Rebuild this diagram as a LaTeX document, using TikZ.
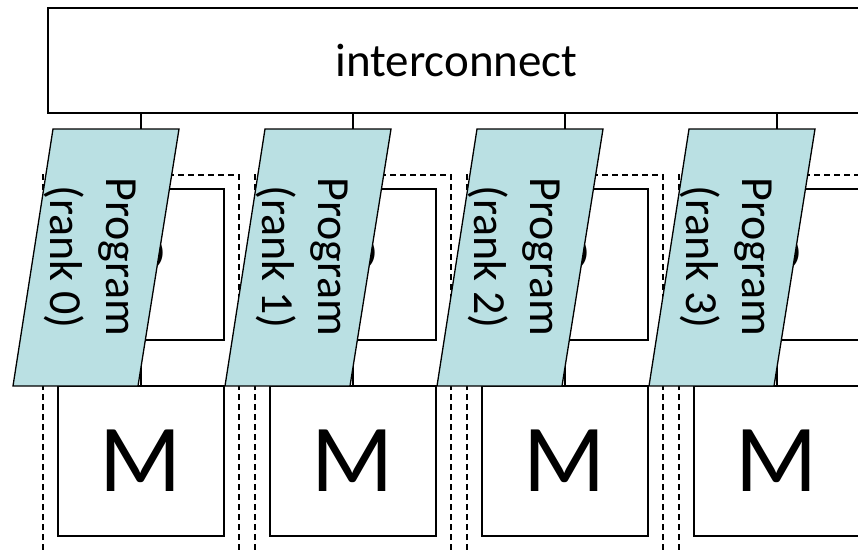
\documentclass[tikz,border=0pt]{standalone}
\usepackage{fontspec}
\setmainfont{Carlito}
\definecolor{progfill}{RGB}{186,224,227}
\begin{document}
\begin{tikzpicture}[x=1pt,y=-1pt,
  box/.style={draw, line width=1.3pt, fill=white, inner sep=0pt, minimum width=166pt},
  dashline/.style={line width=1.3pt, dash pattern=on 6pt off 4pt},
  wire/.style={line width=1.3pt},
  prog/.style={draw, line width=1.3pt, fill=progfill, line join=miter},
  progtext/.style={rotate=-90, align=center, inner sep=0pt, font=\fontsize{46}{56}\selectfont},
  bigletter/.style={font=\fontsize{96}{96}\selectfont}]
\useasboundingbox (0,0) rectangle (858,549);
\clip (0,0) rectangle (858,549);
\node[draw, line width=2pt, fill=white, minimum width=817pt, minimum height=105pt, inner sep=0pt,
      font=\fontsize{47}{56}\selectfont] (ic) at (456.5,60.5) {interconnect};
\foreach \k in {0,1,2,3} {
  \begin{scope}[xshift=212*\k pt]
    \draw[dashline] (43,560) -- (43,175) -- (239,175) -- (239,560);
    \node[box, minimum height=151pt, bigletter] (p\k) at (141,264.5) {P};
    \node[box, minimum height=150pt, bigletter] (m\k) at (141,461) {M};
    \draw[wire] (p\k) -- (m\k);
    \draw[wire] (ic.south -| p\k) -- (p\k);
    \path[prog] (53,129) coordinate (a\k) -- (179,129) coordinate (b\k) -- (138,386) coordinate (c\k) -- (13,386) coordinate (d\k) -- cycle;
    \node[progtext] (t\k) at (90,257) {Program\\(rank \k)};
  \end{scope}
}
\end{tikzpicture}
\end{document}
